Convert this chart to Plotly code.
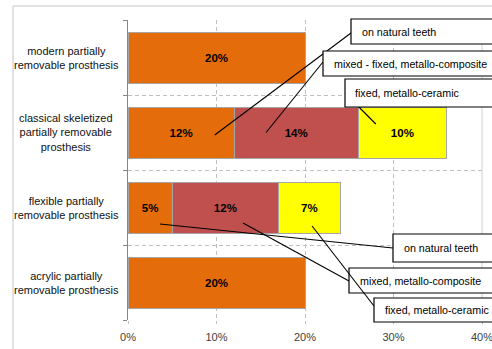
import plotly.graph_objects as go

# ---------------- data ----------------
categories = [
    "modern partially<br>removable prosthesis",
    "classical skeletized<br>partially removable<br>prosthesis",
    "flexible partially<br>removable prosthesis",
    "acrylic partially<br>removable prosthesis",
]
series_names = ["on natural teeth", "mixed - fixed, metallo-composite", "fixed, metallo-ceramic"]
on_natural_teeth = [20, 12, 5, 20]
mixed_composite = [None, 14, 12, None]
fixed_ceramic = [None, 10, 7, None]
x_ticks = [0, 10, 20, 30, 40]
x_tick_labels = ["0%", "10%", "20%", "30%", "40%"]

series_values = [on_natural_teeth, mixed_composite, fixed_ceramic]
colors = ["#E46C0A", "#C0504D", "#FFFF00"]

# ---------------- layout geometry ----------------
W, H = 492, 349
ML, MR, MT, MB = 128, 10, 20, 29
PW, PH = W - ML - MR, H - MT - MB
XMAX = x_ticks[-1]
NCAT = len(categories)


def paper_x(px):
    return (px - ML) / PW


def paper_y(py):
    return 1 - (py - MT) / PH


def data_x(px):
    return (px - ML) / PW * XMAX


def data_y(py):
    return (py - MT) / PH * NCAT - 0.5


fig = go.Figure()
for name, vals, col in zip(series_names, series_values, colors):
    fig.add_trace(go.Bar(
        orientation="h", y=list(range(NCAT)), x=vals, name=name,
        marker=dict(color=col, line=dict(color="#A6A6A6", width=1)),
        text=[(f"{v}%" if v is not None else "") for v in vals],
        texttemplate="%{text}", textposition="inside", insidetextanchor="middle",
        textangle=0, constraintext="none",
        textfont=dict(family="Liberation Sans", size=11.5, color="black", weight="bold"),
        showlegend=False, hoverinfo="skip",
    ))

shapes = []
annotations = []

# outer chart border
shapes.append(dict(type="rect", xref="paper", yref="paper",
                   x0=paper_x(13), x1=paper_x(W + 20), y0=paper_y(H + 20), y1=paper_y(6),
                   line=dict(color="#C4C4C4", width=1), fillcolor="rgba(0,0,0,0)", layer="below"))
# right solid gridline at max
shapes.append(dict(type="line", xref="paper", yref="paper", x0=1, x1=1, y0=0, y1=1,
                   line=dict(color="#D0D0D0", width=1), layer="above"))

# category labels (centered multi-line)
for i, c in enumerate(categories):
    annotations.append(dict(text=c, xref="paper", yref="y", x=paper_x(66), y=i,
                            xanchor="center", yanchor="middle", align="center", showarrow=False,
                            font=dict(family="Liberation Sans", size=11, color="#111111")))

# callouts: (series index, category index, dx %, dy px, box left, box top, box bottom, text x, line y at box)
callouts = [
    (0, 1, 3.8, 2.5, 351, 19, 44, 360, 33),
    (1, 1, -3.4, 0, 323, 51, 76, 332, 62),
    (2, 1, -3.0, -8.5, 345, 79, 107, 353, 93),
    (0, 2, 1.1, 16.5, 393, 234, 262, 402, 248),
    (1, 2, 2.0, 15.5, 349, 268, 293, 358, 281),
    (2, 2, 0.3, 18.5, 374, 298, 322, 383, 306),
]
callout_texts = ["on natural teeth", "mixed - fixed, metallo-composite", "fixed, metallo-ceramic",
                 "on natural teeth", "mixed, metallo-composite", "fixed, metallo-ceramic"]

for (s, c, dx, dy, bl, bt, bb, tx, ly), txt in zip(callouts, callout_texts):
    base = sum((series_values[k][c] or 0) for k in range(s))
    mid = base + series_values[s][c] / 2
    shapes.append(dict(type="line", xref="x", yref="y",
                       x0=mid + dx, y0=c + dy * NCAT / PH,
                       x1=data_x(bl), y1=data_y(ly),
                       line=dict(color="black", width=1.1), layer="above"))
    shapes.append(dict(type="rect", xref="paper", yref="paper",
                       x0=paper_x(bl), x1=paper_x(W + 30), y0=paper_y(bb), y1=paper_y(bt),
                       line=dict(color="black", width=1.2), fillcolor="white", layer="above"))
    annotations.append(dict(text=txt, xref="paper", yref="paper", x=paper_x(tx),
                            y=paper_y((bt + bb) / 2), xanchor="left", yanchor="middle",
                            showarrow=False,
                            font=dict(family="Liberation Sans", size=10.7, color="black")))

fig.update_layout(
    width=W, height=H, margin=dict(l=ML, r=MR, t=MT, b=MB, autoexpand=False),
    paper_bgcolor="white", plot_bgcolor="white",
    barmode="stack", bargap=0.32,
    shapes=shapes, annotations=annotations,
    xaxis=dict(range=[0, XMAX], tickvals=x_ticks, ticktext=x_tick_labels,
               showgrid=True, gridcolor="#BFBFBF", griddash="4px,3px", gridwidth=1,
               zeroline=False, showline=False, ticks="outside", ticklen=3, tickcolor="#BFBFBF",
               ticklabelstandoff=4, ticklabeloverflow="allow",
               tickfont=dict(family="Liberation Sans", size=11, color="#404040")),
    yaxis=dict(type="linear", range=[NCAT - 0.5, -0.5], tickvals=[i - 0.5 for i in range(NCAT + 1)],
               showticklabels=False, showgrid=True, gridcolor="#BFBFBF", griddash="4px,3px",
               zeroline=False, showline=True, linecolor="#868686", linewidth=1,
               ticks="outside", ticklen=4, tickcolor="#868686"),
)

fig.write_html("out.html")
